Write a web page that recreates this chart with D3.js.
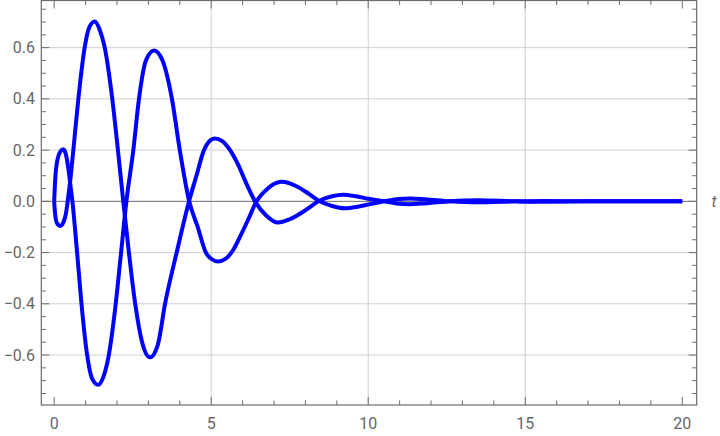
<!DOCTYPE html>
<html>
<head>
<meta charset="utf-8">
<script src="https://cdn.jsdelivr.net/npm/d3@7"></script>
<style>
  html, body { margin: 0; padding: 0; background: #fff; }
  svg { display: block; }
</style>
</head>
<body>
<svg id="chart" width="720" height="436"></svg>
<script>
// ---- data ----
const tA = [0, 0.03, 0.09, 0.2, 0.3, 0.37, 0.43, 0.52, 0.61, 0.77, 0.97, 1.12, 1.29, 1.45, 1.61, 1.85, 2.03, 2.2, 2.38, 2.58, 2.8, 3.05, 3.3, 3.53, 3.9, 4.32, 4.53, 4.77, 4.93, 5.12, 5.35, 5.6, 5.85, 6.1, 6.42, 6.75, 7.13, 7.5, 8.0, 8.46, 8.85, 9.2, 9.6, 10.0, 10.5, 10.9, 11.3, 11.8, 12.6, 13.5, 14.7, 15.6, 17, 18.5, 20];
const vA = [0, -0.05, -0.085, -0.096, -0.08, -0.05, 0, 0.09, 0.2, 0.4, 0.6, 0.68, 0.702, 0.67, 0.6, 0.4, 0.2, 0, -0.2, -0.4, -0.55, -0.609, -0.56, -0.4, -0.2, 0.012, 0.1, 0.2, 0.233, 0.245, 0.235, 0.2, 0.145, 0.075, -0.005, -0.055, -0.083, -0.07, -0.035, 0.003, 0.02, 0.026, 0.02, 0.01, 0, -0.008, -0.011, -0.008, 0, 0.004, 0, -0.0015, 0, 0, 0];

const tB = [0, 0.04, 0.1, 0.2, 0.29, 0.38, 0.46, 0.52, 0.58, 0.73, 0.87, 1.05, 1.2, 1.4, 1.58, 1.74, 1.96, 2.13, 2.3, 2.52, 2.7, 2.92, 3.18, 3.45, 3.75, 4.0, 4.3, 4.57, 4.83, 5.02, 5.22, 5.45, 5.7, 5.95, 6.2, 6.42, 6.8, 7.24, 7.7, 8.1, 8.46, 8.85, 9.26, 9.7, 10.1, 10.5, 10.9, 11.35, 11.8, 12.6, 13.5, 14.7, 15.6, 17, 18.5, 20];
const vB = [0, 0.1, 0.16, 0.195, 0.203, 0.18, 0.12, 0.06, 0, -0.2, -0.4, -0.6, -0.69, -0.716, -0.68, -0.6, -0.4, -0.2, 0, 0.2, 0.4, 0.55, 0.589, 0.55, 0.4, 0.2, 0, -0.1, -0.2, -0.226, -0.235, -0.225, -0.19, -0.13, -0.065, -0.005, 0.05, 0.076, 0.06, 0.03, 0, -0.018, -0.027, -0.02, -0.01, 0, 0.008, 0.011, 0.008, 0, -0.004, 0, 0.0015, 0, 0, 0];

const xMajor = [0, 5, 10, 15, 20];
const xMinor = d3.range(0, 21, 1).filter(d => d % 5 !== 0);
const yMajor = [-0.6, -0.4, -0.2, 0.0, 0.2, 0.4, 0.6];
const yMinor = d3.range(-15, 16).map(d => d * 0.05).filter(d => Math.abs(Math.round(d * 100) % 20) !== 0);
const xGrid = [5, 10, 15];
const yGrid = [-0.6, -0.4, -0.2, 0.2, 0.4, 0.6];
const axisLabel = "t";

// ---- layout ----
const L = 41.3, R = 696.7, T = 0.5, B = 405;
const x = d3.scaleLinear().domain([-0.41, 20.46]).range([L, R]);
const y = d3.scaleLinear().domain([-0.795, 0.784]).range([B, T]);

const svg = d3.select("#chart");
const frameColor = "#6b6b6b";
const labelColor = "#666666";
const gridColor = "#cfcfcf";
const font = "Roboto, 'Open Sans', sans-serif";

svg.append("defs").append("clipPath").attr("id", "clip")
  .append("rect").attr("x", L).attr("y", T).attr("width", R - L).attr("height", B - T);

// grid
const g = svg.append("g");
g.selectAll(".gx").data(xGrid).enter().append("line")
  .attr("x1", d => x(d)).attr("x2", d => x(d)).attr("y1", T).attr("y2", B)
  .attr("stroke", gridColor).attr("stroke-width", 1);
g.selectAll(".gy").data(yGrid).enter().append("line")
  .attr("x1", L).attr("x2", R).attr("y1", d => y(d)).attr("y2", d => y(d))
  .attr("stroke", gridColor).attr("stroke-width", 1);
// zero axis
g.append("line").attr("x1", L).attr("x2", R).attr("y1", y(0)).attr("y2", y(0))
  .attr("stroke", "#6e6e6e").attr("stroke-width", 1);

// curves
const line = d3.line().x(d => x(d[0])).y(d => y(d[1])).curve(d3.curveMonotoneX);
const cg = svg.append("g").attr("clip-path", "url(#clip)");
[[tA, vA], [tB, vB]].forEach(([ts, vs]) => {
  cg.append("path")
    .datum(ts.map((t, i) => [t, vs[i]]))
    .attr("d", line)
    .attr("fill", "none")
    .attr("stroke", "#0000ff")
    .attr("stroke-width", 4)
    .attr("stroke-linejoin", "round")
    .attr("stroke-linecap", "butt");
});

// frame
svg.append("rect").attr("x", L).attr("y", T).attr("width", R - L).attr("height", B - T)
  .attr("fill", "none").attr("stroke", frameColor).attr("stroke-width", 1.2);

// ticks
const majLen = 8, minLen = 4.5;
const tg = svg.append("g").attr("stroke", frameColor).attr("stroke-width", 1);
function xt(data, len) {
  tg.selectAll(null).data(data).enter().append("line")
    .attr("x1", d => x(d)).attr("x2", d => x(d)).attr("y1", B).attr("y2", B - len);
  tg.selectAll(null).data(data).enter().append("line")
    .attr("x1", d => x(d)).attr("x2", d => x(d)).attr("y1", T).attr("y2", T + len);
}
function yt(data, len) {
  tg.selectAll(null).data(data).enter().append("line")
    .attr("x1", L).attr("x2", L + len).attr("y1", d => y(d)).attr("y2", d => y(d));
  tg.selectAll(null).data(data).enter().append("line")
    .attr("x1", R).attr("x2", R - len).attr("y1", d => y(d)).attr("y2", d => y(d));
}
xt(xMajor, majLen); xt(xMinor, minLen);
yt(yMajor, majLen); yt(yMinor, minLen);

// tick labels
const fmtY = d => (d < 0 ? "\u2212" : "") + Math.abs(d).toFixed(1);
svg.append("g").selectAll("text").data(xMajor).enter().append("text")
  .attr("x", d => x(d)).attr("y", 423)
  .attr("text-anchor", "middle").attr("dominant-baseline", "central")
  .attr("font-family", font).attr("font-size", 16).attr("fill", labelColor)
  .text(d => d);
svg.append("g").selectAll("text").data(yMajor).enter().append("text")
  .attr("x", 35).attr("y", d => y(d))
  .attr("text-anchor", "end").attr("dominant-baseline", "central")
  .attr("font-family", font).attr("font-size", 16).attr("fill", labelColor)
  .text(fmtY);

// axis label
svg.append("text").attr("x", 714).attr("y", y(0))
  .attr("text-anchor", "middle").attr("dominant-baseline", "central")
  .attr("font-family", font).attr("font-size", 16).attr("font-style", "italic")
  .attr("fill", labelColor).text(axisLabel);
</script>
</body>
</html>
